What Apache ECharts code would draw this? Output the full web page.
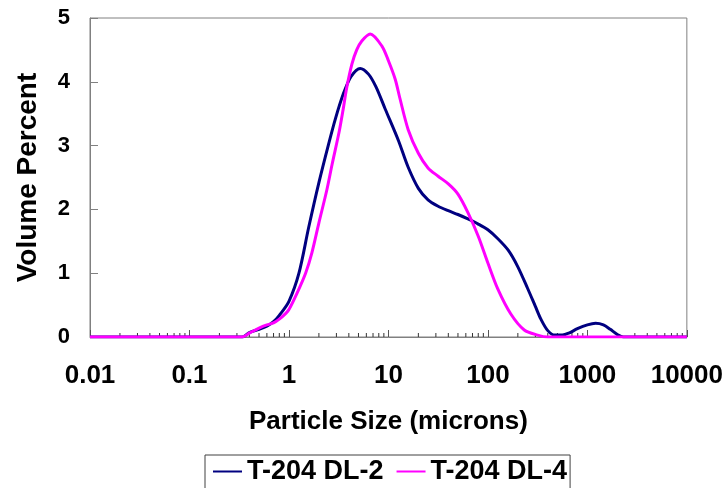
<!DOCTYPE html>
<html>
<head>
<meta charset="utf-8">
<script src="https://cdn.jsdelivr.net/npm/echarts@6/dist/echarts.min.js"></script>
<style>
  html, body { margin: 0; padding: 0; background: #fff; }
  #chart { width: 726px; height: 488px; }
</style>
</head>
<body>
<div id="chart"></div>
<script>
// Particle size distributions (volume percent vs. particle size in microns)
const seriesNames = ['T-204 DL-2', 'T-204 DL-4'];

const sizesDL2 = [0.01, 0.3, 0.34, 0.4, 0.5, 0.6, 0.7, 0.8, 1.0, 1.26, 1.58, 2.0, 2.5, 2.93, 3.5, 4.2, 5.2, 6.3, 7.5, 9.3, 12.6, 15.8, 20, 25, 31.6, 40, 50, 63, 80, 100, 126, 160, 200, 251, 300, 341, 400, 470, 560, 650, 794, 1000, 1210, 1450, 1700, 2000, 2300, 10000];
const valuesDL2 = [0, 0, 0, 0.07, 0.12, 0.17, 0.24, 0.34, 0.56, 1.0, 1.72, 2.42, 3.02, 3.42, 3.8, 4.08, 4.21, 4.12, 3.92, 3.57, 3.08, 2.66, 2.33, 2.15, 2.05, 1.98, 1.92, 1.85, 1.77, 1.68, 1.54, 1.36, 1.1, 0.76, 0.48, 0.28, 0.1, 0.03, 0.03, 0.06, 0.13, 0.19, 0.215, 0.19, 0.12, 0.04, 0, 0];

const sizesDL4 = [0.01, 0.3, 0.34, 0.4, 0.5, 0.6, 0.7, 0.8, 0.93, 1.0, 1.2, 1.47, 1.7, 2.0, 2.4, 2.71, 3.2, 3.5, 3.8, 4.3, 4.8, 5.4, 6.56, 8.6, 10, 11.7, 13, 15.8, 20, 25, 31.6, 40, 50, 63, 80, 100, 126, 170, 232, 316, 400, 10000];
const valuesDL4 = [0, 0, 0, 0.06, 0.14, 0.19, 0.22, 0.28, 0.37, 0.43, 0.68, 1.0, 1.32, 1.79, 2.3, 2.7, 3.22, 3.56, 3.9, 4.28, 4.5, 4.64, 4.75, 4.56, 4.33, 4.04, 3.75, 3.25, 2.88, 2.65, 2.52, 2.4, 2.24, 1.95, 1.58, 1.16, 0.75, 0.36, 0.11, 0.03, 0, 0];

const xTickValues = [0.01, 0.1, 1, 10, 100, 1000, 10000];
const xTickLabels = ['0.01', '0.1', '1', '10', '100', '1000', '10000'];
const minorMultipliers = [2, 3, 4, 5, 6, 7, 8, 9];

const FONT = '"Liberation Sans", Arial, sans-serif';

function pairs(xs, ys) { return xs.map((x, i) => [x, ys[i]]); }

// minor tick positions inside each decade (2..9 x decade)
const minorTicks = [];
for (let d = 0; d < xTickValues.length - 1; d++) {
  minorMultipliers.forEach(m => minorTicks.push([xTickValues[d] * m, 0]));
}

function labelFor(v) {
  let best = 0, bestErr = Infinity;
  xTickValues.forEach((t, i) => {
    const e = Math.abs(Math.log10(v) - Math.log10(t));
    if (e < bestErr) { bestErr = e; best = i; }
  });
  return bestErr < 0.01 ? xTickLabels[best] : '';
}

const chart = echarts.init(document.getElementById('chart'));
chart.setOption({
  animation: false,
  backgroundColor: '#ffffff',
  grid: {
    left: 90, right: 36, top: 18, bottom: 151,
    show: true, borderColor: '#808080', borderWidth: 1, backgroundColor: 'transparent'
  },
  xAxis: {
    type: 'log', logBase: 10, min: 0.01, max: 10000, splitNumber: 6,
    name: 'Particle Size (microns)', nameLocation: 'middle', nameGap: 72,
    nameTextStyle: { fontFamily: FONT, fontWeight: 'bold', fontSize: 26, color: '#000' },
    axisLine: { show: true, lineStyle: { color: '#808080', width: 1 } },
    axisTick: { show: true, inside: true, length: 7, lineStyle: { color: '#555', width: 1 } },
    axisLabel: {
      margin: 26, fontFamily: FONT, fontWeight: 'bold', fontSize: 26, color: '#000',
      formatter: v => labelFor(v)
    },
    splitLine: { show: false }
  },
  yAxis: {
    type: 'value', min: 0, max: 5, interval: 1,
    name: 'Volume Percent', nameLocation: 'middle', nameGap: 48, nameRotate: 90,
    nameTextStyle: { fontFamily: FONT, fontWeight: 'bold', fontSize: 28, color: '#000' },
    axisLine: { show: true, lineStyle: { color: '#808080', width: 1 } },
    axisTick: { show: true, inside: true, length: 8, lineStyle: { color: '#808080', width: 1 } },
    axisLabel: { margin: 20, fontFamily: FONT, fontWeight: 'bold', fontSize: 22, color: '#000' },
    splitLine: { show: false }
  },
  legend: {
    data: seriesNames,
    left: 205, top: 455,
    orient: 'horizontal',
    padding: [3, 3, 12, 8],
    borderColor: '#404040', borderWidth: 1,
    itemWidth: 29, itemHeight: 2, itemGap: 13,
    icon: 'rect',
    textStyle: { fontFamily: FONT, fontWeight: 'bold', fontSize: 27, color: '#000' }
  },
  series: [
    {
      type: 'custom',
      name: 'minorTicks',
      silent: true,
      z: 1,
      data: minorTicks,
      renderItem: function (params, api) {
        const p = api.coord([api.value(0), 0]);
        return {
          type: 'line',
          shape: { x1: p[0], y1: p[1], x2: p[0], y2: p[1] - 4 },
          style: { stroke: '#333', lineWidth: 1 }
        };
      }
    },
    {
      type: 'line', name: seriesNames[0],
      data: pairs(sizesDL2, valuesDL2),
      smooth: 0.3, symbol: 'none', z: 3,
      itemStyle: { color: '#000080' },
      lineStyle: { color: '#000080', width: 3 }
    },
    {
      type: 'line', name: seriesNames[1],
      data: pairs(sizesDL4, valuesDL4),
      smooth: 0.3, symbol: 'none', z: 4,
      itemStyle: { color: '#ff00ff' },
      lineStyle: { color: '#ff00ff', width: 3 }
    }
  ]
});
</script>
</body>
</html>
